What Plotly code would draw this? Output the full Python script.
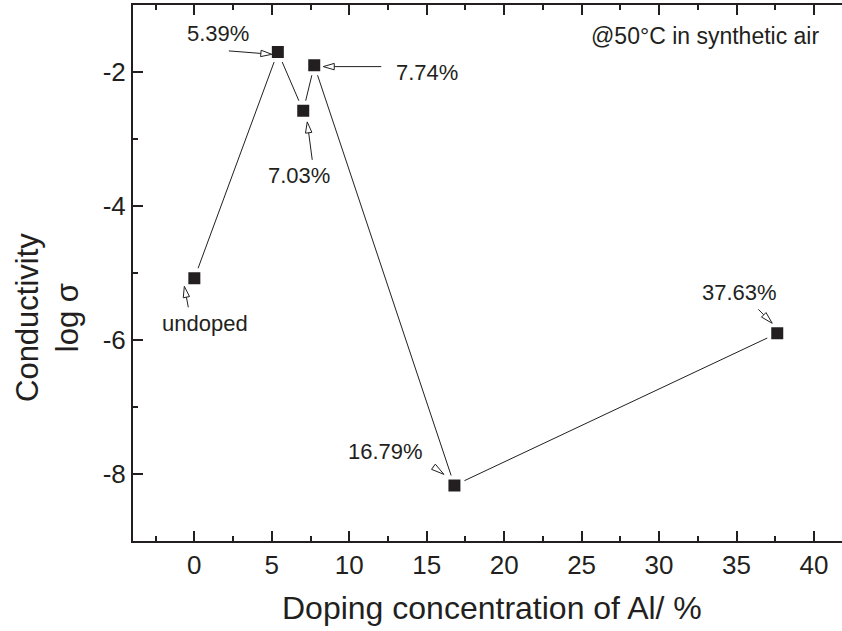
import math
import plotly.graph_objects as go

# ---- data ----
al_conc = [0.0, 5.39, 7.03, 7.74, 16.79, 37.63]
log_sigma = [-5.08, -1.70, -2.58, -1.90, -8.17, -5.90]
point_labels = ["undoped", "5.39%", "7.03%", "7.74%", "16.79%", "37.63%"]

x_tickvals = [0, 5, 10, 15, 20, 25, 30, 35, 40]
x_ticktext = ["0", "5", "10", "15", "20", "25", "30", "35", "40"]
y_tickvals = [-8, -6, -4, -2]
y_ticktext = ["-8", "-6", "-4", "-2"]

x_title = "Doping concentration of Al/ %"
y_title = "Conductivity<br>log σ"
note_text = "@50°C in synthetic air"

# ---- styling (pixel offsets relative to each marker, screen coords: +y down) ----
label_style = [
    dict(text=(11, 45), tail=(-6, 29), tip=(-10, 8), head=11),
    dict(text=(-60, -18), tail=(-49, -1), tip=(-6, 2.4), head=11),
    dict(text=(-4, 65), tail=(9, 49), tip=(4, 11), head=11),
    dict(text=(113, 7), tail=(67, 1.3), tip=(9, 1.3), head=11),
    dict(text=(-69, -34), tail=(-21.5, -19), tip=(-10.5, -11), head=13),
    dict(text=(-38, -41), tail=(-19, -24), tip=(-5, -10), head=12),
]

INK = "#231f20"
FONT = "Arial, 'Liberation Sans', Helvetica, sans-serif"

fig = go.Figure()
fig.add_trace(go.Scatter(
    x=al_conc, y=log_sigma, mode="lines+markers",
    line=dict(color=INK, width=1),
    marker=dict(symbol="square", size=16, color=INK,
                line=dict(color="white", width=4)),
    showlegend=False, hoverinfo="skip",
))


def arrow_path(tail, tip, head_len, half_w=3.2):
    tx, ty = tail
    hx, hy = tip
    dx, dy = hx - tx, hy - ty
    d = math.hypot(dx, dy)
    ux, uy = dx / d, dy / d
    nx, ny = -uy, ux
    bx, by = hx - head_len * ux, hy - head_len * uy

    def p(x, y):
        return f"{x:.2f},{-y:.2f}"
    path = ""
    if d > head_len + 0.5:
        path += f"M{p(tx, ty)} L{p(bx, by)} "
    path += (f"M{p(bx + half_w * nx, by + half_w * ny)} L{p(hx, hy)} "
             f"L{p(bx - half_w * nx, by - half_w * ny)} Z")
    return path


shapes = []
annotations = []
for xv, yv, lab, st in zip(al_conc, log_sigma, point_labels, label_style):
    shapes.append(dict(
        type="path", xref="x", yref="y",
        xsizemode="pixel", ysizemode="pixel", xanchor=xv, yanchor=yv,
        path=arrow_path(st["tail"], st["tip"], st["head"]),
        line=dict(color=INK, width=1), fillcolor="white", layer="above",
    ))
    annotations.append(dict(
        x=xv, y=yv, xref="x", yref="y", text=lab, showarrow=False,
        xanchor="center", yanchor="middle",
        xshift=st["text"][0], yshift=-st["text"][1],
        font=dict(family=FONT, size=22, color=INK),
    ))

annotations.append(dict(
    x=(821 - 133) / 709, y=(541 - 36) / 536, xref="paper", yref="paper",
    text=note_text, showarrow=False, xanchor="right", yanchor="middle",
    font=dict(family=FONT, size=23, color=INK),
))
annotations.append(dict(
    x=(48 - 133) / 709, y=(541 - 318) / 536, xref="paper", yref="paper",
    text=y_title, showarrow=False, xanchor="center", yanchor="middle",
    textangle=-90, font=dict(family=FONT, size=31, color=INK),
))
annotations.append(dict(
    x=(492 - 133) / 709, y=(541 - 608) / 536, xref="paper", yref="paper",
    text=x_title, showarrow=False, xanchor="center", yanchor="middle",
    font=dict(family=FONT, size=32, color=INK),
))

fig.update_layout(
    width=842, height=631, autosize=False,
    margin=dict(l=133, r=0, t=5, b=90, pad=0, autoexpand=False),
    paper_bgcolor="white", plot_bgcolor="white",
    font=dict(family=FONT, color=INK),
    shapes=shapes, annotations=annotations,
    xaxis=dict(
        range=[-3.96, 41.81], tickmode="array",
        tickvals=x_tickvals, ticktext=x_ticktext, automargin=False,
        ticks="inside", ticklen=10, tickwidth=2, tickcolor=INK,
        minor=dict(tickmode="linear", tick0=0, dtick=2.5, ticks="inside",
                   ticklen=5, tickwidth=2, tickcolor=INK),
        showline=True, linecolor=INK, linewidth=2, mirror="ticks",
        showgrid=False, zeroline=False,
        tickfont=dict(family=FONT, size=26, color=INK),
    ),
    yaxis=dict(
        range=[-9, -1], tickmode="array",
        tickvals=y_tickvals, ticktext=y_ticktext, automargin=False,
        ticks="inside", ticklen=10, tickwidth=2, tickcolor=INK,
        minor=dict(tickmode="linear", tick0=0, dtick=1, ticks="inside",
                   ticklen=5, tickwidth=2, tickcolor=INK),
        showline=True, linecolor=INK, linewidth=2, mirror=False,
        showgrid=False, zeroline=False,
        tickfont=dict(family=FONT, size=26, color=INK),
    ),
)

fig.write_html("out.html", config={"displayModeBar": False},
               post_script="document.body.style.margin='0';document.body.style.overflow='hidden';")
